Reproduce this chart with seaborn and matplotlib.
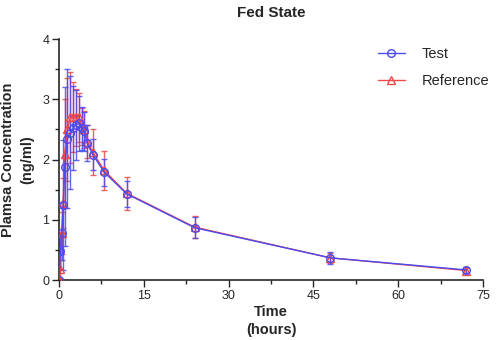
import pandas as pd
import numpy as np
import seaborn as sns
import matplotlib.pyplot as plt
from matplotlib.ticker import MultipleLocator

# sampling times (hours)
time = [0, 0.25, 0.5, 0.75, 1, 1.5, 2, 2.5, 3, 3.5, 4, 4.5, 5, 6, 8, 12, 24, 48, 72]

# mean plasma concentration (ng/ml) and SD
test_mean = [0, 0.48, 0.78, 1.25, 1.88, 2.35, 2.45, 2.52, 2.58, 2.60, 2.52, 2.47, 2.27, 2.08, 1.79, 1.43, 0.87, 0.37, 0.17]
test_sd = [0, 0.30, 0.45, 1.08, 1.32, 1.15, 0.93, 0.70, 0.58, 0.45, 0.36, 0.32, 0.30, 0.26, 0.22, 0.21, 0.17, 0.10, 0.05]

ref_mean = [0, 0.18, 0.78, 1.28, 2.10, 2.50, 2.70, 2.70, 2.70, 2.70, 2.55, 2.50, 2.30, 2.12, 1.82, 1.44, 0.88, 0.37, 0.16]
ref_sd = [0, 0.15, 0.35, 0.42, 0.90, 0.85, 0.75, 0.58, 0.47, 0.40, 0.30, 0.30, 0.28, 0.38, 0.33, 0.28, 0.18, 0.08, 0.04]

blue = '#4a4af0'
red = '#f04848'

df = pd.concat([
    pd.DataFrame({'Time': time, 'Conc': ref_mean, 'SD': ref_sd, 'Group': 'Reference'}),
    pd.DataFrame({'Time': time, 'Conc': test_mean, 'SD': test_sd, 'Group': 'Test'}),
])

sns.set_style('ticks')
plt.rcParams['font.family'] = ['Liberation Sans', 'DejaVu Sans']

fig = plt.figure(figsize=(4.98, 3.4), dpi=100)
ax = fig.add_axes([0.1185, 0.176, 0.8515, 0.709])

styles = {'Reference': (red, '^'), 'Test': (blue, 'o')}
for grp in ['Reference', 'Test']:
    d = df[df['Group'] == grp]
    col, mk = styles[grp]
    ax.errorbar(d['Time'], d['Conc'], yerr=d['SD'], fmt='none', ecolor=col,
                elinewidth=1, capsize=2.5, capthick=1, alpha=0.85, zorder=2)
    sns.lineplot(x='Time', y='Conc', data=d, ax=ax, color=col, marker=mk,
                 markersize=5.5, markerfacecolor='none', markeredgecolor=col,
                 markeredgewidth=1, linewidth=1, label=grp, zorder=3)

ax.set_xlim(0, 75)
ax.set_ylim(0, 4)
ax.xaxis.set_major_locator(MultipleLocator(15))
ax.xaxis.set_minor_locator(MultipleLocator(7.5))
ax.yaxis.set_major_locator(MultipleLocator(1))
ax.yaxis.set_minor_locator(MultipleLocator(0.5))
ax.tick_params(which='major', length=5, width=1, labelsize=9, direction='out', pad=2)
ax.tick_params(which='minor', length=3, width=1, direction='out')
for s in ['left', 'bottom']:
    ax.spines[s].set_linewidth(1.2)
sns.despine(ax=ax)

ax.set_xlabel('Time\n(hours)', fontsize=10.5, fontweight='bold', linespacing=1.35, labelpad=2)
ax.set_ylabel('Plamsa Concentration\n(ng/ml)', fontsize=10.5, fontweight='bold', linespacing=1.45, labelpad=6)
ax.set_title('Fed State', fontsize=11, fontweight='bold', pad=16)

h, l = ax.get_legend_handles_labels()
order = [l.index('Test'), l.index('Reference')]
ax.legend([h[i] for i in order], [l[i] for i in order], frameon=False,
          fontsize=10.5, loc='upper right', bbox_to_anchor=(1.045, 1.02),
          handlelength=1.9, handletextpad=1.1, labelspacing=0.85)

fig.savefig('out.png', dpi=100)
